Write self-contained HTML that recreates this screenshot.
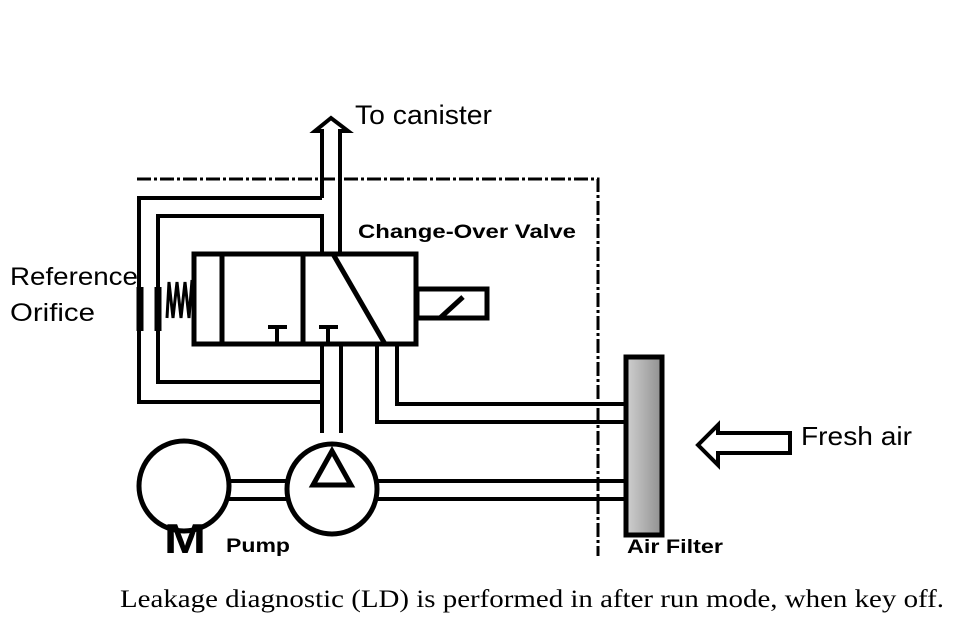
<!DOCTYPE html>
<html><head><style>
html,body{margin:0;padding:0;background:#fff;}
svg{display:block;}
.s{font-family:"Liberation Sans",Arial,sans-serif;}
</style></head><body>
<svg width="971" height="636" viewBox="0 0 971 636" xmlns="http://www.w3.org/2000/svg">
<defs><linearGradient id="g" x1="0" x2="1"><stop offset="0" stop-color="#d0d0d0"/><stop offset="1" stop-color="#909090"/></linearGradient></defs>
<g fill="none" stroke="#000">
<path d="M137 179 H598 V556" stroke-width="3" stroke-dasharray="14 3 3 3"/>
<path d="M322 198 V131 H315 L331 118 L348 131 H340 V252" stroke-width="4" stroke-linejoin="miter"/>
<path d="M322 198 H139 V402 H322 V433" stroke-width="4"/>
<path d="M322 252 V216 H158 V382 H322" stroke-width="4"/>
<path d="M322 345 V402" stroke-width="4"/>
<path d="M341 345 V433" stroke-width="4"/>
<path d="M140 287 V331 M158 287 V331" stroke-width="7"/>
<path d="M192 280 L189 318 L185 282 L181 318 L177 282 L173 318 L169 282 L167 318" stroke-width="3"/>
<rect x="194" y="254" width="222" height="90" stroke-width="5"/>
<path d="M222 254 V344 M303 254 V344" stroke-width="5"/>
<path d="M333 254 L385 344" stroke-width="5"/>
<path d="M268 327 H287 M277 327 V344 M319 327 H338 M328 327 V344" stroke-width="4"/>
<rect x="417" y="289" width="70" height="29" stroke-width="5"/>
<path d="M440 318 L463 297" stroke-width="5"/>
<path d="M397 344 V404 H624" stroke-width="4"/>
<path d="M377 344 V422 H624" stroke-width="4"/>
<circle cx="184" cy="486" r="45" stroke-width="5"/>
<circle cx="332" cy="489" r="45" stroke-width="5"/>
<path d="M229 481 H288 M229 499 H288" stroke-width="4"/>
<path d="M376 481 H624 M376 499 H624" stroke-width="4"/>
<path d="M332 451 L313 485 H351 Z" stroke-width="5" stroke-linejoin="miter"/>
<path d="M790 433 V453 H718 V465 L698 445 L718 425 V433 Z" stroke-width="4"/>
</g>
<rect x="626" y="357" width="36" height="178" fill="url(#g)" stroke="#000" stroke-width="5"/>
<text x="164" y="553" class="s" font-size="42" font-weight="bold" textLength="42" lengthAdjust="spacingAndGlyphs">M</text>
<text x="226" y="552" class="s" font-size="19" font-weight="bold" textLength="64" lengthAdjust="spacingAndGlyphs">Pump</text>
<text x="627" y="553" class="s" font-size="19" font-weight="bold" textLength="96" lengthAdjust="spacingAndGlyphs">Air Filter</text>
<text x="355" y="124" class="s" font-size="27" textLength="137" lengthAdjust="spacingAndGlyphs">To canister</text>
<text x="358" y="238" class="s" font-size="19" font-weight="bold" textLength="218" lengthAdjust="spacingAndGlyphs">Change-Over Valve</text>
<text x="10" y="285" class="s" font-size="25" textLength="128" lengthAdjust="spacingAndGlyphs">Reference</text>
<text x="10" y="321" class="s" font-size="25" textLength="85" lengthAdjust="spacingAndGlyphs">Orifice</text>
<text x="801" y="445" class="s" font-size="26" textLength="111" lengthAdjust="spacingAndGlyphs">Fresh air</text>
<text x="120" y="607" font-family="'Liberation Serif',serif" font-size="25" textLength="824" lengthAdjust="spacingAndGlyphs">Leakage diagnostic (LD) is performed in after run mode, when key off.</text>
</svg>
</body></html>
